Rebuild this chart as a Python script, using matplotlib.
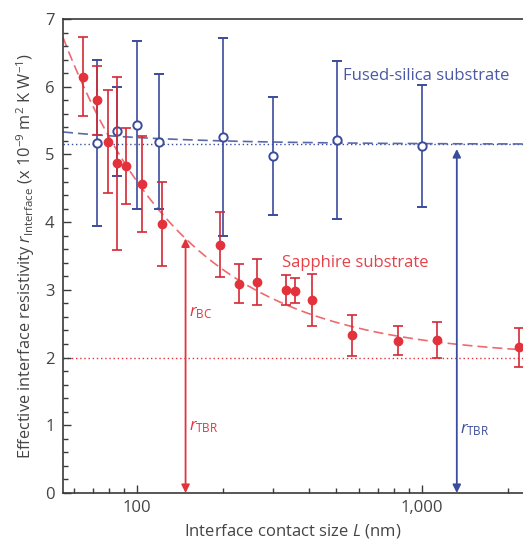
import numpy as np
import matplotlib
matplotlib.use('Agg')
import matplotlib.pyplot as plt
from matplotlib.ticker import FixedLocator, LogLocator, NullFormatter, MultipleLocator

plt.rcParams['font.family'] = ['Open Sans', 'DejaVu Sans']
plt.rcParams['mathtext.fontset'] = 'custom'
plt.rcParams['mathtext.rm'] = 'Open Sans'
plt.rcParams['mathtext.it'] = 'Open Sans:italic'

# sapphire substrate (red, filled)
sap_L = [64.8, 72.2, 78.9, 84.9, 91.3, 104.4, 122, 195.5, 228.6, 264.4,
         333.4, 358.3, 412, 569, 822, 1126, 2195]
sap_r = [6.15, 5.80, 5.19, 4.87, 4.83, 4.56, 3.97, 3.67, 3.09, 3.12,
         3.00, 2.99, 2.85, 2.33, 2.25, 2.26, 2.15]
sap_err = [0.58, 0.51, 0.76, 1.28, 0.56, 0.71, 0.62, 0.48, 0.29, 0.34,
           0.22, 0.18, 0.38, 0.30, 0.21, 0.26, 0.29]

# fused-silica substrate (blue, open)
fs_L = [72.2, 84.9, 99.8, 119.7, 200.8, 300.8, 502, 1002]
fs_r = [5.17, 5.34, 5.44, 5.19, 5.26, 4.98, 5.21, 5.13]
fs_err = [1.22, 0.66, 1.24, 1.00, 1.46, 0.87, 1.17, 0.90]

# fits r = r_TBR + c / L
sap_tbr, sap_c = 2.0, 260.0
fs_tbr, fs_c = 5.15, 10.0

red = '#e3323b'
red_dark = '#d42a35'
blue = '#3c4c9c'
grey = '#3a3a3a'

fig = plt.figure(figsize=(5.23, 5.45), dpi=100)
ax = fig.add_axes([0.1205, 0.0954, 0.8795, 0.8697])

xmin, xmax = 55.0, 2260.0
Lfit = np.logspace(np.log10(xmin), np.log10(xmax), 200)

ax.axhline(sap_tbr, color=red, lw=1.0, ls=(0, (1, 2)), zorder=1)
ax.axhline(fs_tbr, color=blue, lw=1.0, ls=(0, (1, 2)), zorder=1)
ax.plot(Lfit, sap_tbr + sap_c / Lfit, color='#ee6a6e', lw=1.2, ls=(0, (6, 3)), zorder=1)
ax.plot(Lfit, fs_tbr + fs_c / Lfit, color='#5a68aa', lw=1.2, ls=(0, (6, 3)), zorder=1)

ax.errorbar(fs_L, fs_r, yerr=fs_err, fmt='o', color=blue, ecolor=blue,
            mfc='white', mec=blue, mew=1.4, ms=6, elinewidth=1.2,
            capsize=3.5, capthick=1.2, zorder=3)
ax.errorbar(sap_L, sap_r, yerr=sap_err, fmt='o', color=red, ecolor=red_dark,
            mfc=red, mec=red, ms=6, elinewidth=1.2, capsize=3.5,
            capthick=1.2, zorder=4)

# arrows
ax.annotate('', xy=(148, 3.76), xytext=(148, 0.0),
            arrowprops=dict(arrowstyle='<|-|>', color=red, lw=1.3,
                            mutation_scale=12, shrinkA=0, shrinkB=0))
ax.annotate('', xy=(1324, 5.08), xytext=(1324, 0.0),
            arrowprops=dict(arrowstyle='<|-|>', color=blue, lw=1.3,
                            mutation_scale=12, shrinkA=0, shrinkB=0))

ax.text(152, 2.66, r'$\mathit{r}_{\mathrm{BC}}$', color=red, fontsize=12, va='center')
ax.text(152, 0.98, r'$\mathit{r}_{\mathrm{TBR}}$', color=red, fontsize=12, va='center')
ax.text(1355, 0.93, r'$\mathit{r}_{\mathrm{TBR}}$', color=blue, fontsize=12, va='center')
ax.text(527, 6.16, 'Fused-silica substrate', color='#4a58a6', fontsize=12, va='center')
ax.text(322, 3.39, 'Sapphire substrate', color='#e6424a', fontsize=12, va='center')

ax.set_xscale('log')
ax.set_xlim(xmin, xmax)
ax.set_ylim(0, 7)
ax.xaxis.set_major_locator(FixedLocator([100, 1000]))
ax.set_xticklabels(['100', '1,000'])
ax.xaxis.set_minor_locator(LogLocator(base=10, subs=np.arange(2, 10)))
ax.xaxis.set_minor_formatter(NullFormatter())
ax.yaxis.set_major_locator(MultipleLocator(1))
ax.yaxis.set_minor_locator(MultipleLocator(0.2))

ax.tick_params(which='both', direction='in', colors=grey, labelcolor='#444444',
               labelsize=12, width=1.0)
ax.tick_params(which='major', length=6)
ax.tick_params(which='minor', length=3.5)
ax.tick_params(axis='y', right=False, pad=6)
ax.tick_params(axis='x', top=False, pad=5)

for s in ['left', 'bottom', 'top']:
    ax.spines[s].set_color(grey)
    ax.spines[s].set_linewidth(1.2)
ax.spines['right'].set_visible(False)

ax.set_xlabel(r'Interface contact size $\mathit{L}$ (nm)', fontsize=12, color='#444444', labelpad=4)
ax.set_ylabel(r'Effective interface resistivity $\mathit{r}_{\mathrm{Interface}}$ (x 10$^{-9}$ m$^2$ K W$^{-1}$)',
              fontsize=11.8, color='#444444', labelpad=6)

fig.savefig('out.png', dpi=100)
